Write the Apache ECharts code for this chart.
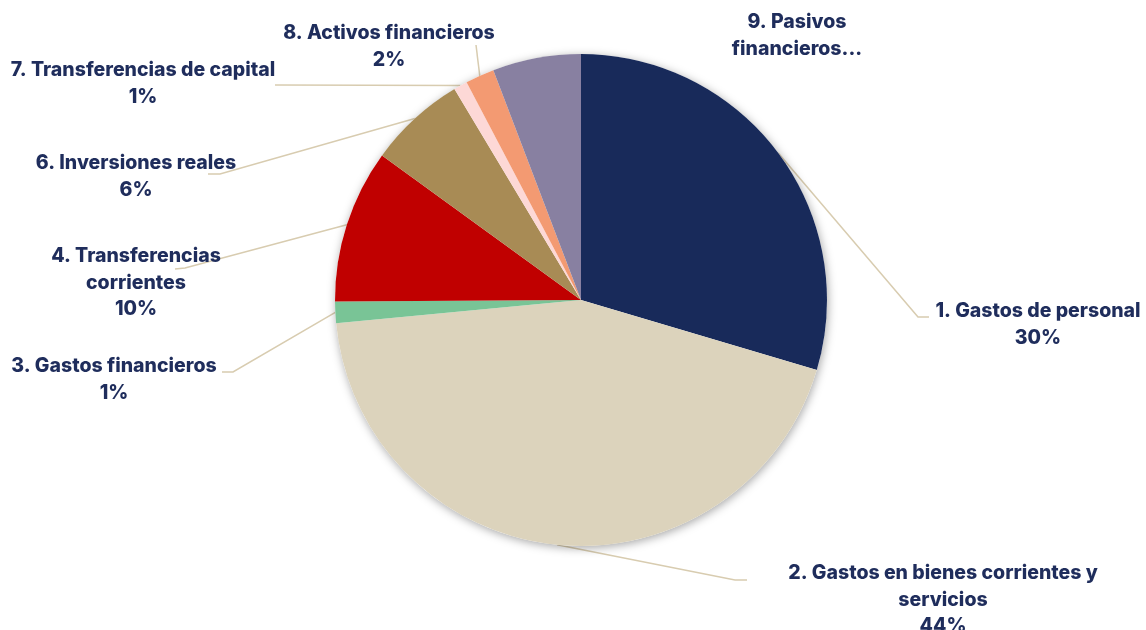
<!DOCTYPE html>
<html>
<head>
<meta charset="utf-8">
<script src="https://cdn.jsdelivr.net/npm/echarts@6/dist/echarts.min.js"></script>
<style>
  html, body { margin: 0; padding: 0; background: #fff; }
  #chart { width: 1146px; height: 630px; }
</style>
</head>
<body>
<div id="chart"></div>
<script>
// categories and shares (percent of total spending)
const categories = [
  '1. Gastos de personal',
  '2. Gastos en bienes corrientes y servicios',
  '3. Gastos financieros',
  '4. Transferencias corrientes',
  '6. Inversiones reales',
  '7. Transferencias de capital',
  '8. Activos financieros',
  '9. Pasivos financieros'
]
const values = [29.6, 43.9, 1.4, 10.1, 6.4, 0.9, 1.9, 5.8]

// text as shown on the chart (wrapped / truncated like the original)
const labelTexts = [
  '1. Gastos de personal',
  '2. Gastos en bienes corrientes y\nservicios',
  '3. Gastos financieros',
  '4. Transferencias\ncorrientes',
  '6. Inversiones reales',
  '7. Transferencias de capital',
  '8. Activos financieros',
  '9. Pasivos\nfinancieros...'
]
const showPercent = [true, true, true, true, true, true, true, false]

const colors = ['#182a5a', '#dcd3bc', '#79c496', '#c00000', '#a88b55', '#fdd8d6', '#f39a72', '#8880a1']

// label placement: [centerX, top], and leader line [elbow, end]
const labelPos = [
  [1038, 298], [943, 560], [114, 353], [136, 243],
  [136, 150], [143, 57], [389, 20], [797, 9]
]
const leaderPts = [
  [[918, 317], [929, 317]],
  [[735, 580], [747, 580]],
  [[233, 372], [222, 372]],
  [[185, 268], [175, 269]],
  [[220, 174], [208, 174]],
  [[275, 85], [275, 85]],
  [[476, 45], [476, 45]],
  null
]

const chart = echarts.init(document.getElementById('chart'))

chart.setOption({
  backgroundColor: '#fff',
  animation: false,
  series: [
    {
      // shadow disc under the pie
      type: 'pie',
      silent: true,
      center: [581, 300],
      radius: 246,
      label: { show: false },
      labelLine: { show: false },
      itemStyle: {
        color: '#fff',
        shadowBlur: 10,
        shadowColor: 'rgba(0,0,0,0.35)',
        shadowOffsetX: 1,
        shadowOffsetY: 2
      },
      data: [1]
    },
    {
      type: 'pie',
      center: [581, 300],
      radius: 246,
      startAngle: 90,
      clockwise: true,
      data: values.map((v, i) => ({
        name: categories[i],
        value: v,
        itemStyle: { color: colors[i] },
        labelLine: { show: leaderPts[i] !== null }
      })),
      label: {
        show: true,
        position: 'outside',
        color: '#1f2d5c',
        fontFamily: 'Inter',
        fontWeight: 800,
        fontSize: 19.5,
        lineHeight: 26.5,
        align: 'center',
        formatter: (p) => showPercent[p.dataIndex]
          ? labelTexts[p.dataIndex] + '\n' + Math.round(p.percent) + '%'
          : labelTexts[p.dataIndex]
      },
      labelLine: {
        show: true,
        lineStyle: { color: '#d8ccb0', width: 1.5 }
      },
      labelLayout: (params) => {
        const i = params.dataIndex
        const out = {
          x: labelPos[i][0],
          y: labelPos[i][1],
          align: 'center',
          verticalAlign: 'top'
        }
        if (leaderPts[i] && params.labelLinePoints) {
          out.labelLinePoints = [params.labelLinePoints[0], leaderPts[i][0], leaderPts[i][1]]
        }
        return out
      },
      emphasis: { disabled: true }
    }
  ]
})
</script>
</body>
</html>
